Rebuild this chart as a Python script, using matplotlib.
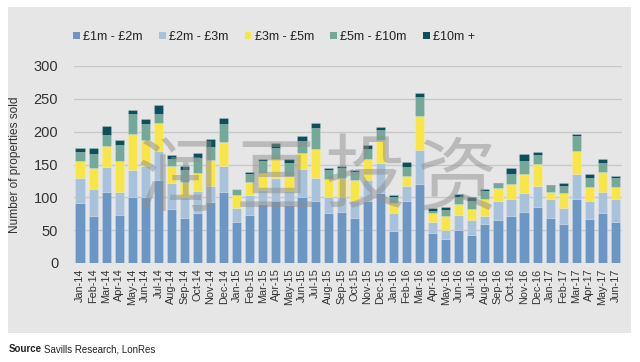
import matplotlib
matplotlib.use('Agg')
import matplotlib.pyplot as plt
import numpy as np
from matplotlib.patches import Rectangle, Patch

plt.rcParams['font.family'] = ['Liberation Sans', 'DejaVu Sans']

months = ['Jan-14', 'Feb-14', 'Mar-14', 'Apr-14', 'May-14', 'Jun-14', 'Jul-14',
          'Aug-14', 'Sep-14', 'Oct-14', 'Nov-14', 'Dec-14',
          'Jan-15', 'Feb-15', 'Mar-15', 'Apr-15', 'May-15', 'Jun-15', 'Jul-15',
          'Aug-15', 'Sep-15', 'Oct-15', 'Nov-15', 'Dec-15',
          'Jan-16', 'Feb-16', 'Mar-16', 'Apr-16', 'May-16', 'Jun-16', 'Jul-16',
          'Aug-16', 'Sep-16', 'Oct-16', 'Nov-16', 'Dec-16',
          'Jan-17', 'Feb-17', 'Mar-17', 'Apr-17', 'May-17', 'Jun-17']

band_1_2 = [91, 72, 108, 73, 100, 100, 127, 82, 69, 76, 93, 108,
            62, 73, 90, 95, 88, 101, 95, 76, 77, 69, 94, 107,
            48, 94, 121, 45, 36, 50, 42, 59, 65, 71, 77, 86,
            69, 59, 98, 67, 76, 63]
band_2_3 = [38, 40, 38, 35, 41, 47, 43, 40, 31, 34, 25, 39,
            21, 31, 21, 35, 22, 42, 34, 25, 24, 25, 33, 46,
            28, 24, 51, 18, 14, 23, 24, 12, 30, 27, 30, 31,
            28, 24, 37, 28, 32, 34]
band_3_5 = [27, 32, 32, 47, 55, 41, 43, 26, 23, 27, 39, 38,
            21, 19, 26, 28, 22, 24, 45, 27, 29, 33, 32, 35,
            15, 15, 52, 13, 21, 17, 16, 27, 19, 23, 28, 34,
            11, 23, 36, 21, 30, 19]
band_5_10 = [13, 22, 17, 24, 31, 24, 14, 11, 18, 23, 20, 27,
             8, 12, 19, 17, 21, 19, 31, 14, 14, 12, 14, 14,
             9, 13, 29, 3, 9, 10, 12, 12, 7, 14, 21, 13,
             9, 11, 22, 13, 14, 13]
band_10 = [6, 9, 13, 8, 6, 8, 14, 6, 7, 8, 12, 9,
           1, 4, 3, 7, 5, 7, 8, 3, 4, 3, 6, 5,
           3, 8, 6, 5, 5, 5, 6, 3, 1, 9, 10, 5,
           2, 5, 3, 7, 6, 4]

series = [band_1_2, band_2_3, band_3_5, band_5_10, band_10]
labels = ['£1m - £2m', '£2m - £3m', '£3m - £5m', '£5m - £10m', '£10m +']
colors = ['#6c96c4', '#a7c2da', '#f8e547', '#74a99a', '#0c5059']

fig = plt.figure(figsize=(6.4, 3.62), dpi=100)
fig.patches.append(Rectangle((8 / 640, 1 - 333 / 362), 623 / 640, 326 / 362,
                             transform=fig.transFigure, facecolor='#e6e6e6',
                             edgecolor='none', zorder=-10))

ax = fig.add_axes([73.5 / 640, 1 - 263 / 362, 548.5 / 640, 197 / 362])
ax.set_facecolor('none')

x = np.arange(len(months))
bottom = np.zeros(len(months))
for vals, col, lab in zip(series, colors, labels):
    vals = np.array(vals, dtype=float)
    ax.bar(x, vals, 0.7, bottom=bottom, color=col, label=lab,
           edgecolor=(1, 1, 1, 0.3), linewidth=0.4, zorder=3)
    bottom += vals

ax.set_xlim(-0.5, len(months) - 0.5)
ax.set_ylim(0, 300)
ax.set_yticks(range(0, 301, 50))
ax.yaxis.grid(True, color='#c8c8c8', linewidth=1)
ax.set_axisbelow(True)
for s in ax.spines.values():
    s.set_visible(False)
ax.tick_params(length=0)
ax.tick_params(axis='y', labelsize=10.5, labelcolor='#333333', pad=11)
ax.set_xticks(x)
ax.set_xticklabels(months, rotation=90, fontsize=7.8, color='#333333')
ax.tick_params(axis='x', pad=4)
ax.set_ylabel('Number of properties sold', fontsize=8.6, color='#333333')
ax.yaxis.set_label_coords(-0.095, 0.5)

handles = [Patch(facecolor=c, edgecolor='none') for c in colors]
fig.legend(handles, labels, loc='center', bbox_to_anchor=(274 / 640, 1 - 37 / 362),
           ncol=5, frameon=False, fontsize=9, handlelength=0.55,
           handleheight=0.55, handletextpad=0.25, columnspacing=1.3,
           labelcolor='#222222')

# watermark
for ch, cx, cy in zip(['润', '亘', '投', '资'], [176, 276, 364, 456],
                      [182, 181, 178, 180]):
    fig.text(cx / 640, 1 - cy / 362, ch, family=['Noto Sans CJK SC'],
             fontsize=58, fontweight='light', color='#8f8f8f', alpha=0.5,
             ha='center', va='center', zorder=20)

fig.text(9 / 640, 1 - 349 / 362, 'Source', fontsize=7, fontweight='bold',
         color='#222222', va='center')
fig.text(44 / 640, 1 - 349 / 362, 'Savills Research, LonRes', fontsize=7,
         color='#222222', va='center')

fig.savefig('out.png', dpi=100, facecolor='white')
